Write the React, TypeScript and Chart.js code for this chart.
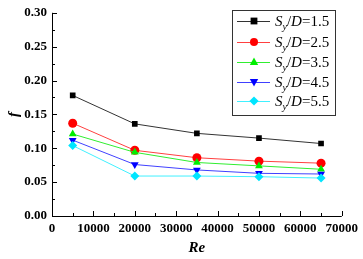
import { useEffect, useRef } from 'react';
import { Chart, registerables } from 'chart.js';
Chart.register(...registerables);

const reValues = [5000, 20000, 35000, 50000, 65000];
const fSy15 = [0.178, 0.136, 0.122, 0.115, 0.107];
const fSy25 = [0.137, 0.097, 0.086, 0.081, 0.078];
const fSy35 = [0.121, 0.094, 0.079, 0.074, 0.069];
const fSy45 = [0.112, 0.076, 0.068, 0.063, 0.062];
const fSy55 = [0.104, 0.059, 0.059, 0.058, 0.056];
const seriesRatios = ['1.5', '2.5', '3.5', '4.5', '5.5'];
const seriesColors = ['#000000', '#ff0000', '#00ee00', '#0000ff', '#00e5ff'];
const seriesLineColors = ['#333333', '#ff4040', '#30ee30', '#4040ff', '#40f0ff'];
const seriesStyles = ['rect', 'circle', 'triangle', 'triangle', 'rectRot'];
const seriesRotations = [0, 0, 0, 180, 0];
const xTickValues = [0, 10000, 20000, 30000, 40000, 50000, 60000, 70000];
const yTickValues = [0, 0.05, 0.1, 0.15, 0.2, 0.25, 0.3];

const SERIF = '"Liberation Serif", "DejaVu Serif", serif';

function drawMarker(ctx: CanvasRenderingContext2D, style: string, rot: number, x: number, y: number, r: number, color: string) {
  ctx.save();
  ctx.fillStyle = color;
  ctx.translate(x, y);
  ctx.rotate((rot * Math.PI) / 180);
  ctx.beginPath();
  if (style === 'rect') {
    ctx.rect(-r * 0.85, -r * 0.85, r * 1.7, r * 1.7);
  } else if (style === 'circle') {
    ctx.arc(0, 0, r, 0, Math.PI * 2);
  } else if (style === 'triangle') {
    ctx.moveTo(0, -r * 1.1);
    ctx.lineTo(r * 1.05, r * 0.75);
    ctx.lineTo(-r * 1.05, r * 0.75);
    ctx.closePath();
  } else {
    ctx.moveTo(0, -r * 1.15);
    ctx.lineTo(r * 1.15, 0);
    ctx.lineTo(0, r * 1.15);
    ctx.lineTo(-r * 1.15, 0);
    ctx.closePath();
  }
  ctx.fill();
  ctx.restore();
}

const axesPlugin = {
  id: 'originAxes',
  afterDraw(chart: any) {
    const ctx: CanvasRenderingContext2D = chart.ctx;
    const xs = chart.scales.x;
    const ys = chart.scales.y;
    const { left, right, top, bottom } = chart.chartArea;
    ctx.save();
    ctx.strokeStyle = '#000';
    ctx.lineWidth = 1;
    ctx.beginPath();
    ctx.moveTo(left + 0.5, top);
    ctx.lineTo(left + 0.5, bottom + 0.5);
    ctx.lineTo(right, bottom + 0.5);
    ctx.stroke();
    // y ticks
    ctx.beginPath();
    for (let i = 0; i < yTickValues.length; i++) {
      const py = Math.round(ys.getPixelForValue(yTickValues[i])) + 0.5;
      ctx.moveTo(left, py);
      ctx.lineTo(left + 5, py);
      if (i < yTickValues.length - 1) {
        const pm = Math.round(ys.getPixelForValue((yTickValues[i] + yTickValues[i + 1]) / 2)) + 0.5;
        ctx.moveTo(left, pm);
        ctx.lineTo(left + 3, pm);
      }
    }
    for (let i = 0; i < xTickValues.length; i++) {
      const px = Math.round(xs.getPixelForValue(xTickValues[i])) + 0.5;
      ctx.moveTo(px, bottom);
      ctx.lineTo(px, bottom - 5);
      if (i < xTickValues.length - 1) {
        const pm = Math.round(xs.getPixelForValue((xTickValues[i] + xTickValues[i + 1]) / 2)) + 0.5;
        ctx.moveTo(pm, bottom);
        ctx.lineTo(pm, bottom - 3);
      }
    }
    ctx.stroke();

    // legend
    const bx = 232, by = 10, bw = 103, bh = 105;
    ctx.fillStyle = '#fff';
    ctx.fillRect(bx, by, bw, bh);
    ctx.strokeStyle = '#333';
    ctx.strokeRect(bx + 0.5, by + 0.5, bw, bh);
    const rowY = [21, 42, 62, 82, 101];
    for (let i = 0; i < seriesRatios.length; i++) {
      const y = rowY[i];
      ctx.strokeStyle = seriesLineColors[i];
      ctx.beginPath();
      ctx.moveTo(237, y + 0.5);
      ctx.lineTo(270, y + 0.5);
      ctx.stroke();
      drawMarker(ctx, seriesStyles[i], seriesRotations[i], 254, y, 4, seriesColors[i]);
      ctx.fillStyle = '#000';
      ctx.textBaseline = 'alphabetic';
      ctx.textAlign = 'left';
      let tx = 275;
      const base = y + 5;
      ctx.font = `italic 15px ${SERIF}`;
      ctx.fillText('S', tx, base);
      tx += ctx.measureText('S').width;
      ctx.font = `italic 10px ${SERIF}`;
      ctx.fillText('y', tx, base + 4);
      tx += ctx.measureText('y').width;
      ctx.font = `15px ${SERIF}`;
      ctx.fillText('/', tx, base);
      tx += ctx.measureText('/').width;
      ctx.font = `italic 15px ${SERIF}`;
      ctx.fillText('D', tx, base);
      tx += ctx.measureText('D').width;
      ctx.font = `15px ${SERIF}`;
      ctx.fillText('=' + seriesRatios[i], tx, base);
    }
    ctx.restore();
  },
};

export default function App() {
  const ref = useRef<HTMLCanvasElement | null>(null);
  useEffect(() => {
    if (!ref.current) return;
    const allSeries = [fSy15, fSy25, fSy35, fSy45, fSy55];
    const chart = new Chart(ref.current, {
      type: 'line',
      data: {
        datasets: allSeries.map((vals, i) => ({
          label: 'Sy/D=' + seriesRatios[i],
          data: reValues.map((x, j) => ({ x, y: vals[j] })),
          borderColor: seriesLineColors[i],
          backgroundColor: seriesColors[i],
          borderWidth: 1,
          pointStyle: seriesStyles[i] as any,
          pointRotation: seriesRotations[i],
          pointRadius: i === 0 ? 4 : 4.5,
          pointBorderWidth: 0,
          pointBorderColor: seriesColors[i],
          pointBackgroundColor: seriesColors[i],
          tension: 0,
          order: 4 - i,
        })),
      },
      options: {
        responsive: false,
        animation: false,
        layout: { padding: { top: 9, right: 20, left: 0, bottom: 0 } },
        plugins: { legend: { display: false }, tooltip: { enabled: false } },
        scales: {
          x: {
            type: 'linear',
            min: 0,
            max: 70000,
            afterBuildTicks: (s: any) => { s.ticks = xTickValues.map((v) => ({ value: v })); },
            afterFit: (s: any) => { s.height = 43; },
            grid: { display: false, drawTicks: false },
            border: { display: false },
            ticks: {
              padding: 5,
              maxRotation: 0,
              color: '#000',
              font: { family: SERIF, size: 13, weight: 'bold' },
              callback: (v: any) => String(v),
            },
            title: {
              display: true,
              text: 'Re',
              color: '#000',
              font: { family: SERIF, size: 15, weight: 'bold', style: 'italic' },
              padding: { top: 0, bottom: 2 },
            },
          },
          y: {
            type: 'linear',
            min: 0,
            max: 0.3,
            afterBuildTicks: (s: any) => { s.ticks = yTickValues.map((v) => ({ value: v })); },
            afterFit: (s: any) => { s.width = 52; },
            grid: { display: false, drawTicks: false },
            border: { display: false },
            ticks: {
              padding: 5,
              color: '#000',
              font: { family: SERIF, size: 13, weight: 'bold' },
              callback: (v: any) => Number(v).toFixed(2),
            },
            title: {
              display: true,
              text: 'f',
              color: '#000',
              font: { family: SERIF, size: 15, weight: 'bold', style: 'italic' },
              padding: { top: 5, bottom: 0 },
            },
          },
        },
      },
      plugins: [axesPlugin],
    });
    return () => chart.destroy();
  }, []);
  return (
    <div style={{ position: 'fixed', left: 0, top: 0, width: 363, height: 259, background: '#fff' }}>
      <canvas ref={ref} width={363} height={259} style={{ display: 'block', width: 363, height: 259 }} />
    </div>
  );
}
